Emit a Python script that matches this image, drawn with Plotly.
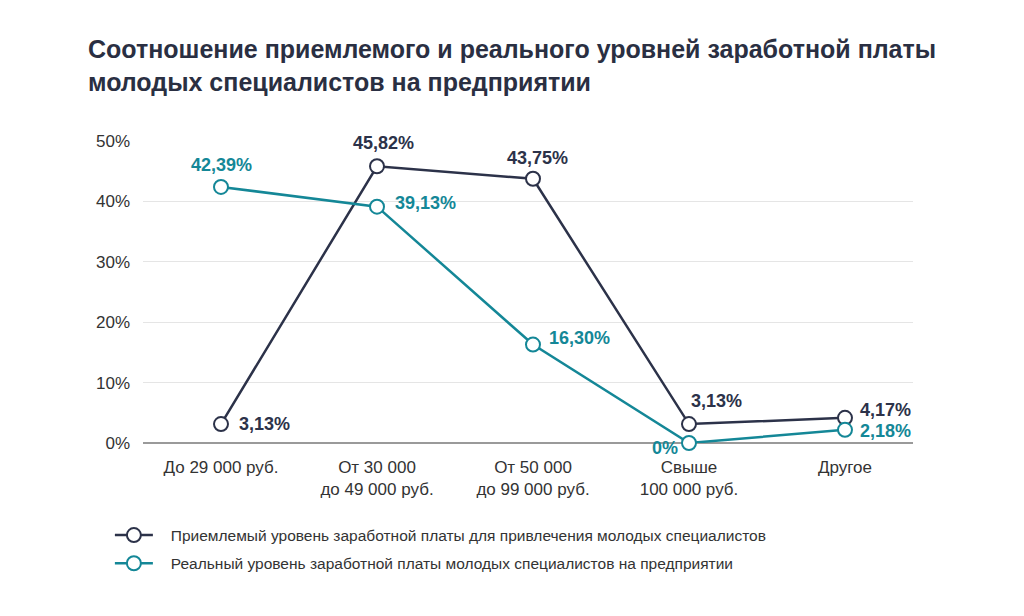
import plotly.graph_objects as go

categories = ["До 29 000 руб.", "От 30 000<br>до 49 000 руб.", "От 50 000<br>до 99 000 руб.",
              "Свыше<br>100 000 руб.", "Другое"]
acceptable = [3.13, 45.82, 43.75, 3.13, 4.17]
real = [42.39, 39.13, 16.30, 0.0, 2.18]
acceptable_labels = ["3,13%", "45,82%", "43,75%", "3,13%", "4,17%"]
real_labels = ["42,39%", "39,13%", "16,30%", "0%", "2,18%"]
series_names = ["Приемлемый уровень заработной платы для привлечения молодых специалистов",
                "Реальный уровень заработной платы молодых специалистов на предприятии"]
y_ticks = [0, 10, 20, 30, 40, 50]
y_tick_labels = ["0%", "10%", "20%", "30%", "40%", "50%"]

DARK = "#2c3249"
TEAL = "#148797"
FONT = "Liberation Sans, Arial, sans-serif"
PAD = "\u00a0" * 3

fig = go.Figure()
for name, vals, col, grp in [(series_names[0], acceptable, DARK, "a"), (series_names[1], real, TEAL, "b")]:
    fig.add_trace(go.Scatter(
        x=categories, y=vals, name=PAD + name, mode="lines+markers", legendgroup=grp,
        line=dict(color=col, width=2.5),
        marker=dict(size=14, color="white", line=dict(color=col, width=2)),
        cliponaxis=False, hoverinfo="skip"))

# label offsets (pixels) relative to each point
acc_off = [(16, 0, "left"), (6, 23, "center"), (5, 21, "center"), (0, 23, "left"), (13, 8, "left")]
real_off = [(0, 22, "center"), (16, 4, "left"), (14, 7, "left"), (-9, -5, "right"), (13, -1, "left")]
for vals, labels, offs, col in [(acceptable, acceptable_labels, acc_off, DARK), (real, real_labels, real_off, TEAL)]:
    for c, v, t, (dx, dy, anc) in zip(categories, vals, labels, offs):
        fig.add_annotation(x=c, y=v, text="<b>%s</b>" % t, showarrow=False,
                           xshift=dx, yshift=dy, xanchor=anc, yanchor="middle",
                           font=dict(size=18, color=col, family=FONT))

fig.update_layout(
    width=1024, height=616,
    paper_bgcolor="white", plot_bgcolor="white",
    margin=dict(l=143, r=111, t=141, b=173),
    font=dict(family=FONT, color="#333333", size=17),
    title=dict(text="<b>Соотношение приемлемого и реального уровней заработной платы<br>молодых специалистов на предприятии</b>",
               x=88/1024, xanchor="left", xref="container", y=1-58/616, yanchor="top", yref="container",
               font=dict(size=25, color="#2a2f42", family=FONT)),
    showlegend=True,
    legend=dict(x=-0.043, xanchor="left", y=-0.25, yanchor="top", orientation="v",
                font=dict(size=15.5, color="#333333"), tracegroupgap=5, itemwidth=38,
                bgcolor="rgba(0,0,0,0)"),
    xaxis=dict(range=[-0.5, 4.436], showgrid=False, showline=False, ticks="", tickfont=dict(size=17),
               ticklabelstandoff=12, fixedrange=True),
    yaxis=dict(range=[0, 50], tickvals=y_ticks, ticktext=y_tick_labels, showgrid=True,
               gridcolor="#e5e5e5", gridwidth=1, zeroline=True, zerolinecolor="#9a9a9a", zerolinewidth=2,
               showline=False, ticks="", ticklabelstandoff=12, tickfont=dict(size=17), fixedrange=True),
)

fig.write_html("out.html")
